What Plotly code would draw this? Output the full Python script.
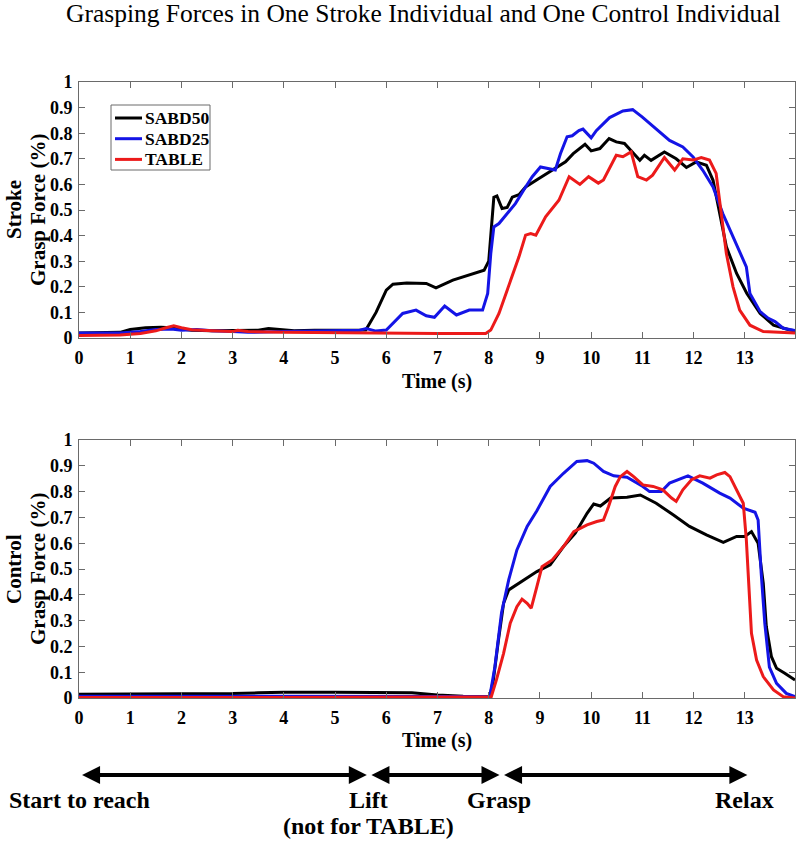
import plotly.graph_objects as go

# ---------------- data ----------------
series_names = ["SABD50", "SABD25", "TABLE"]
series_colors = ["#000000", "#1414E6", "#EC1A1A"]

# Stroke individual
stroke_sabd50_t = [0, 0.5, 0.8, 1.0, 1.3, 1.6, 1.8, 2.0, 2.2, 2.6, 3.0, 3.5, 3.7, 3.9, 4.2, 4.6, 5.0, 5.4, 5.6,
                   5.8, 6.0, 6.13, 6.4, 6.78, 6.97, 7.3, 7.62, 7.91, 8.0, 8.1, 8.16, 8.26, 8.36, 8.46, 8.59, 8.72,
                   8.98, 9.24, 9.5, 9.65, 9.88, 10.0, 10.17, 10.35, 10.49, 10.65, 10.81, 10.95, 11.04, 11.17, 11.43,
                   11.66, 11.86, 12.05, 12.25, 12.38, 12.51, 12.64, 12.84, 13.04, 13.3, 13.56, 13.88, 13.98]
stroke_sabd50_v = [0.02, 0.022, 0.022, 0.033, 0.04, 0.042, 0.04, 0.035, 0.03, 0.028, 0.028, 0.03, 0.037, 0.033,
                   0.028, 0.03, 0.03, 0.03, 0.031, 0.1, 0.187, 0.21, 0.215, 0.213, 0.196, 0.226, 0.246, 0.265, 0.30,
                   0.55, 0.555, 0.506, 0.51, 0.55, 0.56, 0.59, 0.623, 0.656, 0.688, 0.72, 0.757, 0.731, 0.74, 0.779,
                   0.766, 0.76, 0.727, 0.694, 0.714, 0.694, 0.727, 0.70, 0.666, 0.688, 0.675, 0.616, 0.486, 0.356,
                   0.252, 0.174, 0.096, 0.05, 0.031, 0.028]

stroke_sabd25_t = [0, 0.8, 1.2, 1.5, 1.8, 2.0, 2.3, 2.6, 3.0, 3.3, 4.0, 5.0, 5.48, 5.61, 5.8, 6.0, 6.13, 6.32, 6.58,
                   6.78, 6.94, 7.14, 7.37, 7.62, 7.88, 7.98, 8.04, 8.1, 8.2, 8.33, 8.52, 8.72, 8.85, 9.01, 9.17, 9.3,
                   9.4, 9.53, 9.63, 9.76, 9.84, 10.0, 10.1, 10.36, 10.62, 10.81, 11.0, 11.27, 11.53, 11.79, 11.99,
                   12.18, 12.38, 12.57, 12.77, 12.96, 13.03, 13.1, 13.3, 13.46, 13.59, 13.75, 13.98]
stroke_sabd25_v = [0.02, 0.02, 0.025, 0.033, 0.035, 0.03, 0.033, 0.028, 0.025, 0.022, 0.025, 0.027, 0.03, 0.037,
                   0.027, 0.031, 0.057, 0.096, 0.109, 0.087, 0.081, 0.125, 0.09, 0.109, 0.109, 0.174, 0.33, 0.434,
                   0.447, 0.48, 0.525, 0.59, 0.63, 0.668, 0.66, 0.656, 0.72, 0.786, 0.79, 0.81, 0.816, 0.782, 0.81,
                   0.861, 0.887, 0.892, 0.863, 0.817, 0.772, 0.746, 0.707, 0.655, 0.59, 0.486, 0.395, 0.304, 0.278,
                   0.174, 0.103, 0.077, 0.064, 0.038, 0.029]

stroke_table_t = [0, 0.8, 1.2, 1.5, 1.7, 1.85, 2.0, 2.2, 2.6, 3.0, 3.1, 3.3, 4.0, 5.0, 6.0, 7.0, 7.94, 8.04, 8.2,
                  8.39, 8.59, 8.72, 8.82, 8.92, 9.11, 9.37, 9.57, 9.78, 9.95, 10.14, 10.24, 10.49, 10.62, 10.78,
                  10.91, 11.08, 11.2, 11.43, 11.63, 11.79, 11.99, 12.15, 12.31, 12.44, 12.54, 12.64, 12.77, 12.9,
                  13.1, 13.36, 13.98]
stroke_table_v = [0.01, 0.012, 0.018, 0.028, 0.04, 0.048, 0.04, 0.032, 0.028, 0.025, 0.03, 0.025, 0.022, 0.02,
                  0.02, 0.018, 0.018, 0.031, 0.096, 0.2, 0.317, 0.402, 0.408, 0.402, 0.473, 0.538, 0.63, 0.6, 0.63,
                  0.605, 0.617, 0.714, 0.708, 0.727, 0.63, 0.617, 0.636, 0.705, 0.656, 0.70, 0.695, 0.705, 0.695,
                  0.643, 0.486, 0.33, 0.2, 0.109, 0.05, 0.025, 0.02]

# Control individual
control_sabd50_t = [0, 1, 2, 3, 3.5, 4, 5, 6, 6.5, 7, 7.5, 8.02, 8.09, 8.19, 8.29, 8.39, 8.59, 8.75, 8.94, 9.2,
                    9.46, 9.69, 9.92, 10.05, 10.18, 10.38, 10.7, 10.96, 11.27, 11.6, 11.92, 12.25, 12.58, 12.84,
                    13.0, 13.13, 13.26, 13.36, 13.42, 13.52, 13.62, 13.78, 13.98]
control_sabd50_v = [0.015, 0.015, 0.015, 0.017, 0.02, 0.022, 0.022, 0.022, 0.02, 0.012, 0.007, 0.005, 0.07, 0.225,
                    0.367, 0.419, 0.445, 0.465, 0.49, 0.516, 0.587, 0.639, 0.716, 0.752, 0.744, 0.775, 0.778, 0.787,
                    0.755, 0.71, 0.665, 0.632, 0.603, 0.626, 0.626, 0.645, 0.6, 0.445, 0.277, 0.16, 0.115, 0.096,
                    0.07]

control_sabd25_t = [0, 2, 4, 6, 7, 8.02, 8.12, 8.25, 8.39, 8.55, 8.75, 8.94, 9.2, 9.46, 9.72, 9.92, 10.05, 10.24,
                    10.44, 10.7, 11.01, 11.14, 11.37, 11.53, 11.89, 12.18, 12.51, 12.71, 12.97, 13.2, 13.26, 13.32,
                    13.39, 13.48, 13.62, 13.81, 13.98]
control_sabd25_v = [0.007, 0.007, 0.008, 0.008, 0.006, 0.005, 0.12, 0.33, 0.458, 0.574, 0.665, 0.726, 0.82, 0.871,
                    0.917, 0.92, 0.91, 0.878, 0.861, 0.856, 0.82, 0.8, 0.8, 0.833, 0.861, 0.833, 0.794, 0.775, 0.736,
                    0.72, 0.69, 0.484, 0.29, 0.12, 0.057, 0.018, 0.005]

control_table_t = [0, 4, 8.05, 8.15, 8.29, 8.42, 8.55, 8.65, 8.75, 8.83, 8.94, 9.04, 9.24, 9.46, 9.66, 9.92, 10.11,
                   10.24, 10.34, 10.47, 10.57, 10.7, 10.83, 11.01, 11.21, 11.4, 11.57, 11.66, 11.79, 11.96, 12.12,
                   12.32, 12.45, 12.61, 12.71, 12.84, 12.97, 13.03, 13.09, 13.13, 13.23, 13.36, 13.56, 13.75, 13.98]
control_table_v = [0.002, 0.002, 0.005, 0.07, 0.173, 0.29, 0.354, 0.383, 0.367, 0.348, 0.432, 0.509, 0.535, 0.587,
                   0.645, 0.671, 0.684, 0.69, 0.742, 0.82, 0.858, 0.878, 0.858, 0.826, 0.82, 0.807, 0.775, 0.762,
                   0.807, 0.846, 0.861, 0.852, 0.865, 0.874, 0.858, 0.807, 0.755, 0.613, 0.419, 0.251, 0.147, 0.083,
                   0.031, 0.005, 0.0]

x_tick_vals = list(range(0, 14))
y_tick_vals = [0, 0.1, 0.2, 0.3, 0.4, 0.5, 0.6, 0.7, 0.8, 0.9, 1]
y_tick_text = ["0", "0.1", "0.2", "0.3", "0.4", "0.5", "0.6", "0.7", "0.8", "0.9", "1"]

# task phases (time in s) and their labels
phase_bounds = [0, 5.65, 8.24, 13.08]
phase_label_t = [0, 5.65, 8.2, 13.0]
phase_labels = ["Start to reach", "Lift", "Grasp", "Relax"]
phase_note = "(not for TABLE)"

title_text = "Grasping Forces in One Stroke Individual and One Control Individual"

# ---------------- figure ----------------
W, H = 800, 842
SERIF = "Liberation Serif"


def fx(px):
    return px / W


def fy(py):
    return 1 - py / H


fig = go.Figure()

stroke = [(stroke_sabd50_t, stroke_sabd50_v), (stroke_sabd25_t, stroke_sabd25_v), (stroke_table_t, stroke_table_v)]
control = [(control_sabd50_t, control_sabd50_v), (control_sabd25_t, control_sabd25_v),
           (control_table_t, control_table_v)]

for i, (t, v) in enumerate(stroke):
    fig.add_trace(go.Scatter(x=t, y=v, mode="lines", name=series_names[i], showlegend=False,
                             line=dict(color=series_colors[i], width=3), xaxis="x", yaxis="y"))
for i, (t, v) in enumerate(control):
    fig.add_trace(go.Scatter(x=t, y=v, mode="lines", name=series_names[i], showlegend=False,
                             line=dict(color=series_colors[i], width=3), xaxis="x2", yaxis="y2"))

px_l, px_r = 79, 795
top_t, top_b = 82, 338
bot_t, bot_b = 440, 698

axis_common = dict(showline=True, mirror="ticks", linecolor="#6a6a6a", linewidth=1, ticks="inside",
                   ticklen=6, tickcolor="#6a6a6a", showgrid=False, zeroline=False, automargin=False,
                   tickfont=dict(family=SERIF, size=18, color="black", weight="bold"))

fig.update_layout(
    width=W, height=H, margin=dict(l=0, r=0, t=0, b=0, autoexpand=False),
    paper_bgcolor="white", plot_bgcolor="white",
    xaxis=dict(domain=[fx(px_l), fx(px_r)], range=[0, 13.98], tickvals=x_tick_vals, anchor="y",
               ticklabelstandoff=3, **axis_common),
    yaxis=dict(domain=[fy(top_b), fy(top_t)], range=[0, 1], tickvals=y_tick_vals,
               ticktext=y_tick_text, anchor="x", ticklabelstandoff=2, **axis_common),
    xaxis2=dict(domain=[fx(px_l), fx(px_r)], range=[0, 13.98], tickvals=x_tick_vals, anchor="y2",
                ticklabelstandoff=3, **axis_common),
    yaxis2=dict(domain=[fy(bot_b), fy(bot_t)], range=[0, 1], tickvals=y_tick_vals,
                ticktext=y_tick_text, anchor="x2", ticklabelstandoff=2, **axis_common),
    showlegend=False,
)

annotations = []
shapes = []

# title
annotations.append(dict(text=title_text, x=fx(423), y=fy(13), xref="paper", yref="paper",
                        xanchor="center", yanchor="middle", showarrow=False,
                        font=dict(family=SERIF, size=25.5, color="black")))

# y titles (two rotated lines each)
for cy, first in ((210, "Stroke"), (569, "Control")):
    for cx, txt in ((14, first), (38, "Grasp Force (%)")):
        annotations.append(dict(text=txt, x=fx(cx), y=fy(cy), xref="paper", yref="paper",
                                xanchor="center", yanchor="middle", showarrow=False, textangle=-90,
                                font=dict(family=SERIF, size=21, color="black", weight="bold")))

# x titles
for yy in (381, 740):
    annotations.append(dict(text="Time (s)", x=fx(0.5 * (px_l + px_r)), y=fy(yy), xref="paper", yref="paper",
                            xanchor="center", yanchor="middle", showarrow=False,
                            font=dict(family=SERIF, size=20, color="black", weight="bold")))

# legend (inside top panel)
leg_l, leg_r, leg_t, leg_b = 111, 210, 105, 170
shapes.append(dict(type="rect", xref="paper", yref="paper", x0=fx(leg_l), x1=fx(leg_r),
                   y0=fy(leg_b), y1=fy(leg_t), line=dict(color="#6a6a6a", width=1),
                   fillcolor="white", layer="above"))
for k, (nm, col) in enumerate(zip(series_names, series_colors)):
    yy = 118 + k * 20.7
    shapes.append(dict(type="line", xref="paper", yref="paper", x0=fx(115), x1=fx(142),
                       y0=fy(yy), y1=fy(yy), line=dict(color=col, width=3), layer="above"))
    annotations.append(dict(text=nm, x=fx(143), y=fy(yy), xref="paper", yref="paper",
                            xanchor="left", yanchor="middle", showarrow=False,
                            font=dict(family=SERIF, size=17.5, color="black", weight="bold")))

# phase arrows (double headed), aligned with the bottom time axis
arrow_y = fy(775)
gap = 0.03
for a, b in zip(phase_bounds[:-1], phase_bounds[1:]):
    annotations.append(dict(x=b - gap, y=arrow_y, ax=a + gap, ay=0, xref="x2", yref="paper",
                            axref="x2", ayref="pixel", text="", showarrow=True, arrowhead=2,
                            arrowside="end+start", arrowsize=0.9, arrowwidth=4, arrowcolor="black"))

for tb, lab in zip(phase_label_t, phase_labels):
    annotations.append(dict(text=lab, x=tb, y=fy(800), xref="x2", yref="paper", xanchor="center",
                            yanchor="middle", showarrow=False,
                            font=dict(family=SERIF, size=24, color="black", weight="bold")))
annotations.append(dict(text=phase_note, x=phase_label_t[1], y=fy(826), xref="x2", yref="paper",
                        xanchor="center", yanchor="middle", showarrow=False,
                        font=dict(family=SERIF, size=24, color="black", weight="bold")))

fig.update_layout(annotations=annotations, shapes=shapes)

# remove the browser's default page margin so the figure sits at the window origin
fig.write_html("out.html", config={"displayModeBar": False},
               post_script="document.body.style.margin='0px';document.body.style.overflow='hidden';")
